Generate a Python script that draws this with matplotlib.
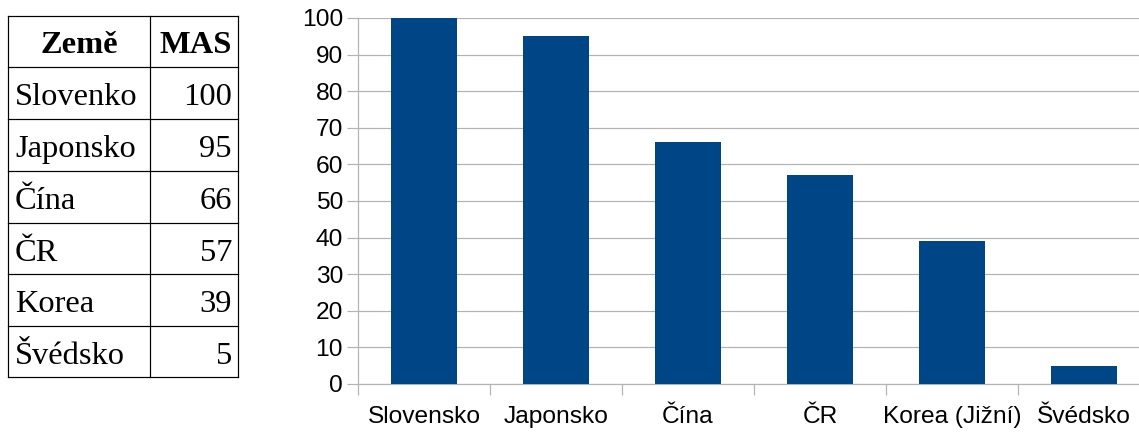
import matplotlib
matplotlib.use("Agg")
import matplotlib.pyplot as plt
import numpy as np

# ---- data ----
table_countries = ["Slovenko", "Japonsko", "Čína", "ČR", "Korea", "Švédsko"]
table_values = [100, 95, 66, 57, 39, 5]
table_headers = ["Země", "MAS"]
chart_categories = ["Slovensko", "Japonsko", "Čína", "ČR", "Korea (Jižní)", "Švédsko"]
chart_values = [100, 95, 66, 57, 39, 5]
y_ticks = [0, 10, 20, 30, 40, 50, 60, 70, 80, 90, 100]

W, H = 1139, 434
DPI = 100
fig = plt.figure(figsize=(W / DPI, H / DPI), dpi=DPI)

def px(v):  # pixels -> points
    return v * 72 / DPI

GRID = "#b3b3b3"
BAR = "#004586"

# ---- bar chart ----
left_px, right_px, top_px, bottom_px = 358, 1139, 18, 384
ax = fig.add_axes([left_px / W, (H - bottom_px) / H,
                   (right_px - left_px) / W, (bottom_px - top_px) / H])
cat_w = 132
x = np.arange(len(chart_categories))
ax.bar(x, chart_values, width=0.5, color=BAR, zorder=3)
ax.set_yticks(y_ticks)
ax.set_yticklabels([str(t) for t in y_ticks])
ax.yaxis.grid(True, color=GRID, linewidth=px(1.2), zorder=0)
ax.set_xticks(x)
ax.set_xticklabels(chart_categories)
ax.set_xticks(np.arange(len(chart_categories) + 1) - 0.5, minor=True)
ax.set_xlim(-0.5, (right_px - left_px) / cat_w - 0.5)
ax.set_ylim(0, 100)
ax.tick_params(axis="x", which="major", length=0, pad=px(22))
ax.tick_params(axis="x", which="minor", length=px(11), color=GRID, width=px(1.2))
ax.tick_params(axis="y", length=px(11), color=GRID, width=px(1.2), pad=px(4))
for lab in ax.get_xticklabels() + ax.get_yticklabels():
    lab.set_fontfamily("Liberation Sans")
    lab.set_fontsize(px(24.5))
    lab.set_color("#000000")
for s in ["top", "right"]:
    ax.spines[s].set_visible(False)
for s in ["left", "bottom"]:
    ax.spines[s].set_color(GRID)
    ax.spines[s].set_linewidth(px(1.2))
ax.set_facecolor("none")

# ---- table (drawn in pixel coordinates on an overlay) ----
tax = fig.add_axes([0, 0, 1, 1], zorder=-1)
tax.set_xlim(0, W)
tax.set_ylim(H, 0)
tax.axis("off")

tx0, tx1, tx2 = 8, 150, 238
row_edges = [16, 67, 119, 171, 223, 274, 326, 377]
lw = px(1.2)
for yy in row_edges:
    tax.plot([tx0, tx2], [yy, yy], color="black", lw=lw, solid_capstyle="projecting")
for xx in [tx0, tx1, tx2]:
    tax.plot([xx, xx], [row_edges[0], row_edges[-1]], color="black", lw=lw,
             solid_capstyle="projecting")

tfont = dict(family="Liberation Serif", fontsize=px(32.5), color="black")
hb = 53
tax.text((tx0 + tx1) / 2, hb, table_headers[0], ha="center", va="baseline",
         fontweight="bold", **tfont)
tax.text(tx2 - 6, hb, table_headers[1], ha="right", va="baseline",
         fontweight="bold", **tfont)
for i, (c, v) in enumerate(zip(table_countries, table_values)):
    base = row_edges[i + 1] + 38
    tax.text(tx0 + 7, base, c, ha="left", va="baseline", **tfont)
    tax.text(tx2 - 6, base, str(v), ha="right", va="baseline", **tfont)

fig.savefig("out.png", dpi=DPI)
